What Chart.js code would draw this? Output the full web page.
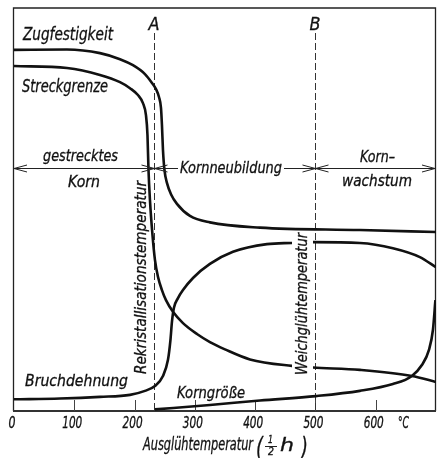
<!DOCTYPE html>
<html lang="de">
<head>
<meta charset="UTF-8">
<title>Ausglühtemperatur</title>
<script src="https://cdn.jsdelivr.net/npm/chart.js"></script>
<style>
  html, body { margin: 0; padding: 0; background: #fff; }
  canvas { display: block; }
</style>
</head>
<body>
<canvas id="chart" width="437" height="458"></canvas>
<script>
const tempTicks = [0, 100, 200, 300, 400, 500, 600];
const markerA = 233;   // Rekristallisationstemperatur
const markerB = 500;   // Weichglühtemperatur

const zugT = [0, 87.9, 142.6, 175.8, 197.3, 217.2, 228.9, 235.5, 240.5, 243.8, 245.4, 247.1, 249.6, 253.7, 260.4, 270.3, 291.9, 325, 408, 573.8, 699.8];
const zugV = [89.6, 89.7, 88.8, 87.3, 85.8, 83.6, 81.4, 79.9, 77.9, 75.2, 71.0, 64.8, 59.8, 56.6, 53.8, 51.4, 48.4, 46.8, 45.5, 44.9, 44.4];

const streckT = [0, 87.9, 142.6, 175.8, 192.4, 205.6, 213.9, 218.9, 221.4, 223.1, 225.5, 229.7, 233.8, 238.8, 245.4, 252.1, 263.7, 280.3, 303.5, 325, 349.9, 391.4, 461, 495.9, 573.8, 660, 699.8];
const streckV = [85.6, 85.1, 83.4, 81.6, 80.1, 78.4, 76.4, 73.4, 68.5, 59.8, 52.4, 43.7, 37.5, 33.3, 30.0, 27.5, 24.6, 21.8, 19.1, 17.1, 15.3, 12.8, 11.2, 10.8, 10.2, 8.7, 7.2];

const bruchT = [0, 76.3, 142.6, 192.4, 217.2, 233.8, 247.1, 255.4, 259.5, 262, 265.3, 272, 280.3, 296.9, 325, 363.2, 419.6, 461, 495.9, 573.8, 628.5, 673.3, 699.8];
const bruchV = [2.9, 3.1, 3.5, 4.0, 5.0, 6.2, 8.7, 12.7, 17.6, 22.1, 25.6, 28.0, 30.0, 33.0, 36.5, 39.5, 41.4, 41.7, 41.9, 41.7, 40.4, 38.2, 35.7];

const kornT = [233.8, 325, 408, 500.8, 573.8, 628.5, 660, 676.6, 688.2, 694.9, 699];
const kornV = [0.4, 1.5, 2.6, 3.7, 5.0, 6.7, 8.7, 11.4, 15.1, 20.1, 27.5];

const FONT = '"Liberation Sans Narrow", "DejaVu Sans Condensed", "DejaVu Sans", sans-serif';

function pts(xs, ys) {
  return xs.map((t, i) => ({ x: t, y: ys[i] }));
}

function curve(name, xs, ys) {
  return {
    label: name,
    data: pts(xs, ys),
    borderColor: '#111',
    borderWidth: 2.6,
    pointRadius: 0,
    fill: false,
    cubicInterpolationMode: 'monotone'
  };
}

// Text auf eine Zielbreite gestreckt zeichnen
function label(ctx, s, x, y, w, size, rot) {
  ctx.save();
  ctx.font = `italic ${size}px ${FONT}`;
  const m = ctx.measureText(s).width;
  ctx.translate(x, y);
  if (rot) ctx.rotate(rot);
  if (w) ctx.scale(w / m, 1);
  ctx.textAlign = 'left';
  ctx.textBaseline = 'alphabetic';
  ctx.fillStyle = '#111';
  ctx.strokeStyle = '#111';
  ctx.lineWidth = 0.3;
  ctx.fillText(s, 0, 0);
  ctx.strokeText(s, 0, 0);
  ctx.restore();
}

function head(ctx, x, y, dir) {
  ctx.moveTo(x - dir * 13, y - 3.5);
  ctx.lineTo(x, y);
  ctx.lineTo(x - dir * 13, y + 3.5);
}

const deco = {
  id: 'deco',
  beforeDatasetsDraw(chart) {
    const { ctx, chartArea: a, scales: { x } } = chart;
    ctx.save();
    // Rahmen
    ctx.strokeStyle = '#222';
    ctx.lineWidth = 1.3;
    ctx.beginPath();
    ctx.moveTo(a.left - 0.5, a.bottom);
    ctx.lineTo(a.left - 0.5, a.top);
    ctx.lineTo(a.right - 0.5, a.top);
    ctx.lineTo(a.right - 0.5, a.bottom);
    ctx.stroke();
    ctx.strokeStyle = '#333';
    ctx.lineWidth = 2;
    ctx.beginPath();
    ctx.moveTo(a.left - 1, a.bottom);
    ctx.lineTo(a.right, a.bottom);
    ctx.stroke();
    // Teilstriche nach innen
    ctx.lineWidth = 1;
    ctx.strokeStyle = '#444';
    ctx.beginPath();
    tempTicks.slice(1).forEach(t => {
      const px = Math.round(x.getPixelForValue(t)) + 0.5;
      ctx.moveTo(px, a.bottom);
      ctx.lineTo(px, a.bottom - 11);
    });
    ctx.stroke();
    // gestrichelte Linien A und B
    ctx.setLineDash([7, 3]);
    ctx.strokeStyle = '#333';
    ctx.beginPath();
    [markerA, markerB].forEach(t => {
      const px = Math.round(x.getPixelForValue(t)) + 0.5;
      ctx.moveTo(px, 33);
      ctx.lineTo(px, a.bottom);
    });
    ctx.stroke();
    ctx.restore();
  },
  afterDatasetsDraw(chart) {
    const { ctx, chartArea: a, scales: { x } } = chart;
    const xA = Math.round(x.getPixelForValue(markerA)) + 0.5;
    const xB = Math.round(x.getPixelForValue(markerB)) + 0.5;
    ctx.save();
    // Lücke für die Beschriftung Weichglühtemperatur
    ctx.fillStyle = '#fff';
    ctx.fillRect(292, 234, 21, 138);

    // Bereichspfeile
    const ay = 168.5;
    ctx.strokeStyle = '#222';
    ctx.lineWidth = 1;
    ctx.beginPath();
    ctx.moveTo(a.left, ay); ctx.lineTo(xA, ay);
    head(ctx, a.left, ay, -1); head(ctx, xA, ay, 1);
    ctx.moveTo(xA, ay); ctx.lineTo(178, ay);
    head(ctx, xA, ay, -1);
    ctx.moveTo(284, ay); ctx.lineTo(xB, ay);
    head(ctx, xB, ay, 1);
    ctx.moveTo(xB, ay); ctx.lineTo(a.right - 1, ay);
    head(ctx, xB, ay, -1); head(ctx, a.right - 1, ay, 1);
    ctx.stroke();

    // Beschriftungen
    label(ctx, 'Zugfestigkeit', 23, 40, 90, 17);
    label(ctx, 'Streckgrenze', 22, 92, 86, 17);
    label(ctx, 'A', xA - 6, 30, 11, 17);
    label(ctx, 'B', xB - 6, 30, 11, 17);
    label(ctx, 'gestrecktes', 43, 161, 75, 16);
    label(ctx, 'Korn', 68, 187, 32, 16);
    label(ctx, 'Kornneubildung', 180, 173, 102, 16);
    label(ctx, 'Korn–', 360, 162, 35, 16);
    label(ctx, 'wachstum', 342, 186, 70, 16);
    label(ctx, 'Bruchdehnung', 25, 386, 103, 16);
    label(ctx, 'Korngröße', 177, 398, 68, 16);
    label(ctx, 'Rekristallisationstemperatur', 146, 374, 193, 16, -Math.PI / 2);
    label(ctx, 'Weichglühtemperatur', 307, 375, 142, 16, -Math.PI / 2);

    // Achsenbeschriftung
    tempTicks.forEach(t => {
      const s = String(t);
      const w = s.length === 1 ? 7 : 20;
      label(ctx, s, x.getPixelForValue(t) - 2 - w / 2, 428, w, 15);
    });
    label(ctx, '°C', 398, 428, 11, 15);
    label(ctx, 'Ausglühtemperatur', 143, 450, 110, 17);
    label(ctx, '(', 256, 456, 7, 26);
    label(ctx, '1', 268, 443, 5, 10);
    label(ctx, '2', 268, 455, 6, 10);
    ctx.beginPath();
    ctx.moveTo(265, 446.5); ctx.lineTo(277, 446.5);
    ctx.stroke();
    label(ctx, 'h', 280, 451, 14, 18);
    label(ctx, ')', 301, 456, 7, 26);
    ctx.restore();
  }
};

new Chart(document.getElementById('chart').getContext('2d'), {
  type: 'line',
  data: {
    datasets: [
      curve('Zugfestigkeit', zugT, zugV),
      curve('Streckgrenze', streckT, streckV),
      curve('Bruchdehnung', bruchT, bruchV),
      curve('Korngröße', kornT, kornV)
    ]
  },
  options: {
    responsive: false,
    animation: false,
    layout: { padding: { left: 14, right: 1, top: 8, bottom: 47 } },
    plugins: { legend: { display: false }, tooltip: { enabled: false } },
    scales: {
      x: { type: 'linear', min: 0, max: 700, display: false },
      y: { min: 0, max: 100, display: false }
    }
  },
  plugins: [deco]
});
</script>
</body>
</html>
